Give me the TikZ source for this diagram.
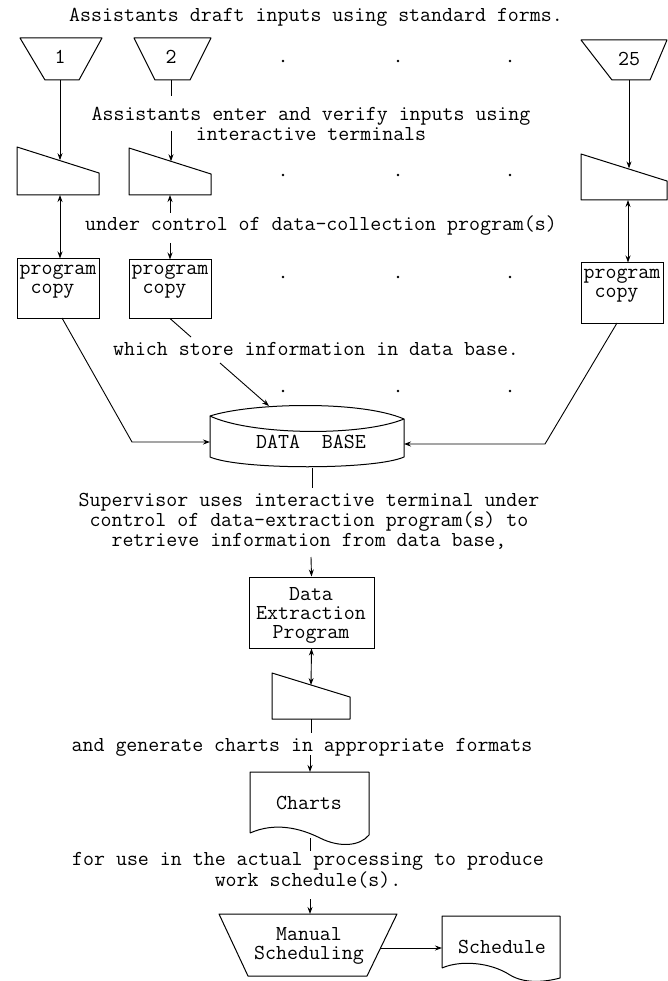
\documentclass[tikz,border=0pt]{standalone}
\usepackage{fontspec}
\usetikzlibrary{arrows.meta}
\begin{document}
\begin{tikzpicture}[x=1pt,y=-1pt,
  txt/.style={font=\ttfamily\fontsize{21.3}{19.2}\selectfont, inner sep=0pt, align=center},
  ltxt/.style={txt, align=left},
  outline/.style={line width=1pt, line join=round},
  box/.style={draw, line width=1pt, inner sep=0pt},
  flow/.style={line width=0.9pt},
  arr/.style={flow,-{Stealth[length=7pt,width=5pt]}},
  darr/.style={flow,{Stealth[length=7pt,width=5pt]}-{Stealth[length=7pt,width=5pt]}},
  dot/.style={circle, fill, inner sep=0pt, minimum size=2.8pt}]
\useasboundingbox (0,0) rectangle (668,981);

% ---------- explanatory texts ----------
\node[txt] (t0) at (316,17) {Assistants draft inputs using standard forms.};
\node[txt] (t1) at (311,124) {Assistants enter and verify inputs using\\interactive terminals};
\node[txt] (t2) at (321,226) {under control of data-collection program(s)};
\node[txt] (t3) at (316,349) {which store information in data base.};
\node[txt] (t4) at (309,521) {Supervisor uses interactive terminal under\\control of data-extraction program(s) to\\retrieve information from data base,};
\node[txt] (t5) at (302,747) {and generate charts in appropriate formats};
\node[txt] (t6) at (308,870) {for use in the actual processing to produce\\work schedule(s).};

% ---------- input forms (manual input trapezia) ----------
\draw[outline] (20,38) -- (102,38) -- (79,80) -- (45,80) -- cycle;
\node[txt] (in1) at (60,57) {1};
\coordinate (in1b) at (60,80);
\draw[outline] (134,38) -- (211,38) -- (190,80) -- (155,80) -- cycle;
\node[txt] (in2) at (171,57) {2};
\coordinate (in2b) at (171,80);
\coordinate (in2c) at (171,96);
\coordinate (in2d) at (171,131);
\draw[outline] (581,40) -- (667,40) -- (650,80) -- (612,80) -- cycle;
\node[txt] (in25) at (629,59) {25};
\coordinate (in25b) at (629,80);

% ---------- terminals ----------
\draw[outline] (17,147) -- (99,173) -- (99,195) -- (17,195) -- cycle;
\coordinate (k1t) at (60,160.2);
\coordinate (k1b) at (60,195);
\draw[outline] (129,148) -- (211,174) -- (211,195) -- (129,195) -- cycle;
\coordinate (k2t) at (171,161.3);
\coordinate (k2b) at (170,195);
\coordinate (k2c) at (170,213);
\draw[outline] (581,154) -- (667,181) -- (667,200) -- (581,200) -- cycle;
\coordinate (k25t) at (629,168.4);
\coordinate (k25b) at (628,200);

% ---------- program copies ----------
\node[box, minimum width=82pt, minimum height=59pt] (p1) at (58,288.5) {};
\node[ltxt] at (58,282) {program\\\hphantom{x}copy};
\node[box, minimum width=82pt, minimum height=58pt] (p2) at (170,289) {};
\node[ltxt] at (170,282) {program\\\hphantom{x}copy};
\coordinate (p2c) at (170,243);
\node[box, minimum width=82pt, minimum height=60pt] (p25) at (622,293) {};
\node[ltxt] at (622,286) {program\\\hphantom{x}copy};

% ---------- ellipsis dots ----------
\foreach \yy in {61,175,277,391}
  \foreach \xx in {283,398,510}
    \node[dot] at (\xx,\yy) {};

% ---------- data base ----------
\draw[outline] (210,416) .. controls (250,403) and (360,400) .. (404,419)
  -- (404,457) .. controls (375,470) and (240,470) .. (210,457) -- cycle;
\draw[outline] (210,416) .. controls (250,435) and (360,437) .. (404,419);
\node[txt] (db) at (311,442) {DATA\ \ BASE};
\coordinate (dbl) at (210,442);
\coordinate (dbr) at (404,444);
\coordinate (dbt) at (269,406);
\coordinate (dbb) at (312,468);

% ---------- data extraction ----------
\node[box, minimum width=125pt, minimum height=71pt] (dx) at (311.5,612.5) {};
\node[txt] at (311,615.5) {Data\\Extraction\\Program};
\draw[outline] (272,673) -- (350,697) -- (350,719) -- (272,719) -- cycle;
\coordinate (k4t) at (311,685);
\coordinate (k4b) at (311,719);

% ---------- charts document ----------
\draw[outline] (250,833) -- (250,772) -- (369,772) -- (369,835)
  .. controls (360,846) and (340,848) .. (320,838)
  .. controls (300,828) and (275,822) .. (250,833);
\node[txt] (ch) at (309,803) {Charts};

% ---------- manual scheduling ----------
\draw[outline] (219,914) -- (397,914) -- (367,976) -- (248,976) -- cycle;
\node[txt] (ms) at (309,946) {Manual\\Scheduling};
\coordinate (msr) at (381,948);

% ---------- schedule document ----------
\draw[outline] (442,968) -- (442,916) -- (560,916) -- (560,978)
  .. controls (545,982) and (525,984) .. (510,975)
  .. controls (490,962) and (460,960) .. (442,968);
\node[txt] (sc) at (502,947) {Schedule};

% ---------- connectors ----------
\draw[arr] (in1b) -- (k1t);
\draw[flow] (in2b) -- (in2c);
\draw[arr] (in2d) -- (k2t);
\draw[arr] (in25b) -- (k25t);
\draw[darr] (k1b) -- (p1.north -| k1b);
\draw[arr] (k2c) -- (k2b);
\draw[arr] (p2c) -- (p2.north);
\draw[darr] (k25b) -- (p25.north -| k25b);
\draw[flow] (p2.south) -- (191,337);
\draw[arr] (220,363) -- (dbt);
\draw[arr] (62,318) -- (132,442) -- (dbl);
\draw[arr] (617,323) -- (545,444) -- (dbr);
\draw[flow] (dbb) -- (312,488);
\draw[arr] (311,557) -- (dx.north);
\draw[darr] (dx.south) -- (k4t);
\draw[flow] (k4b) -- (311,733);
\draw[arr] (310,755) -- (310,772);
\draw[flow] (310,838) -- (310,851);
\draw[arr] (310,899) -- (310,914);
\draw[arr] (msr) -- (442,948);
\end{tikzpicture}
\end{document}
